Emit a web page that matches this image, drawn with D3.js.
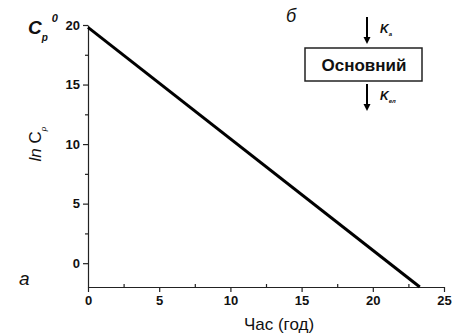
<!DOCTYPE html>
<html>
<head>
<meta charset="utf-8">
<script src="https://cdn.jsdelivr.net/npm/d3@7"></script>
<style>
  body { margin: 0; background: #fff; }
  text { font-family: "Liberation Sans", Arial, sans-serif; fill: #111; }
</style>
</head>
<body>
<div id="chart"></div>
<script>
// line
const times = [0, 23.3];
const lnC = [19.8, -2];
const xTicks = [0, 5, 10, 15, 20, 25];
const yTicks = [0, 5, 10, 15, 20];

const width = 452, height = 335;
const margin = { top: 25, right: 8, bottom: 48, left: 88 };

const svg = d3.select('#chart').append('svg')
  .attr('width', width)
  .attr('height', height);

const x = d3.scaleLinear().domain([0, 25]).range([margin.left, 444]);
const y = d3.scaleLinear().domain([-2, 20]).range([287, 25]);

// axes
svg.append('g')
  .attr('transform', `translate(0,${y(-2)})`)
  .call(d3.axisBottom(x).tickValues(xTicks).tickSize(5).tickSizeOuter(0).tickPadding(4));
svg.append('g')
  .attr('transform', `translate(0,${y(-2)})`)
  .call(d3.axisBottom(x).tickValues(d3.range(2.5, 25, 5)).tickSize(-3).tickFormat(''))
  .select('.domain').remove();

svg.append('g')
  .attr('transform', `translate(${x(0)},0)`)
  .call(d3.axisLeft(y).tickValues(yTicks).tickSize(5).tickSizeOuter(0).tickPadding(3));
svg.append('g')
  .attr('transform', `translate(${x(0)},0)`)
  .call(d3.axisLeft(y).tickValues(d3.range(2.5, 20, 5)).tickSize(3).tickFormat(''))
  .select('.domain').remove();

svg.selectAll('.domain, .tick line').attr('stroke', '#222').attr('stroke-width', 1.2);
svg.selectAll('.tick text')
  .style('font-size', '13px')
  .style('font-weight', 'bold')
  .style('font-family', '"Liberation Sans", Arial, sans-serif')
  .attr('fill', '#111');

// line
const pts = times.map((t, i) => [t, lnC[i]]);
svg.append('path')
  .datum(pts)
  .attr('fill', 'none')
  .attr('stroke', '#000')
  .attr('stroke-width', 3)
  .attr('d', d3.line().x(d => x(d[0])).y(d => y(d[1])));

// axis titles
svg.append('text')
  .attr('x', 279)
  .attr('y', 330)
  .attr('text-anchor', 'middle')
  .style('font-size', '17px')
  .text('Час (год)');

const yl = svg.append('text')
  .attr('transform', `translate(41,${y(10)}) rotate(-90)`)
  .attr('text-anchor', 'middle')
  .style('font-size', '17px');
yl.append('tspan').style('font-style', 'italic').text('ln ');
yl.append('tspan').text('C');
yl.append('tspan').attr('dy', 5).style('font-size', '8px').style('font-style', 'italic').text('p');

// C_p^0 label
const c0 = svg.append('text').attr('x', 28).attr('y', 34)
  .style('font-size', '19px').style('font-weight', 'bold').style('font-style', 'italic');
c0.append('tspan').text('C');
c0.append('tspan').attr('dy', 7).style('font-size', '10px').text('p');
c0.append('tspan').attr('dy', -19).attr('dx', 4).style('font-size', '11px').text('0');

// panel letters
svg.append('text').attr('x', 19).attr('y', 285)
  .style('font-size', '19px').style('font-style', 'italic').text('а');
svg.append('text').attr('x', 286).attr('y', 22)
  .style('font-size', '18px').style('font-style', 'italic').text('б');

// scheme
const box = svg.append('g');
box.append('rect')
  .attr('x', 305).attr('y', 48).attr('width', 117).attr('height', 33)
  .attr('fill', '#fff').attr('stroke', '#222').attr('stroke-width', 1.5);
box.append('text')
  .attr('x', 364).attr('y', 71)
  .attr('text-anchor', 'middle')
  .style('font-size', '17px').style('font-weight', 'bold')
  .text('Основний');

function arrow(x0, y0, y1) {
  box.append('line').attr('x1', x0).attr('x2', x0).attr('y1', y0).attr('y2', y1 - 6)
    .attr('stroke', '#000').attr('stroke-width', 2);
  box.append('path')
    .attr('d', `M${x0 - 3.5},${y1 - 7} L${x0 + 3.5},${y1 - 7} L${x0},${y1} Z`)
    .attr('fill', '#000');
}
arrow(367, 17, 44);
arrow(367, 84, 111);

const ka = box.append('text').attr('x', 380).attr('y', 33)
  .style('font-size', '12px').style('font-weight', 'bold').style('font-style', 'italic');
ka.append('tspan').text('K');
ka.append('tspan').attr('dy', 3).style('font-size', '6px').text('a');

const kel = box.append('text').attr('x', 380).attr('y', 100)
  .style('font-size', '12px').style('font-weight', 'bold').style('font-style', 'italic');
kel.append('tspan').text('K');
kel.append('tspan').attr('dy', 3).style('font-size', '6px').text('ел');
</script>
</body>
</html>
